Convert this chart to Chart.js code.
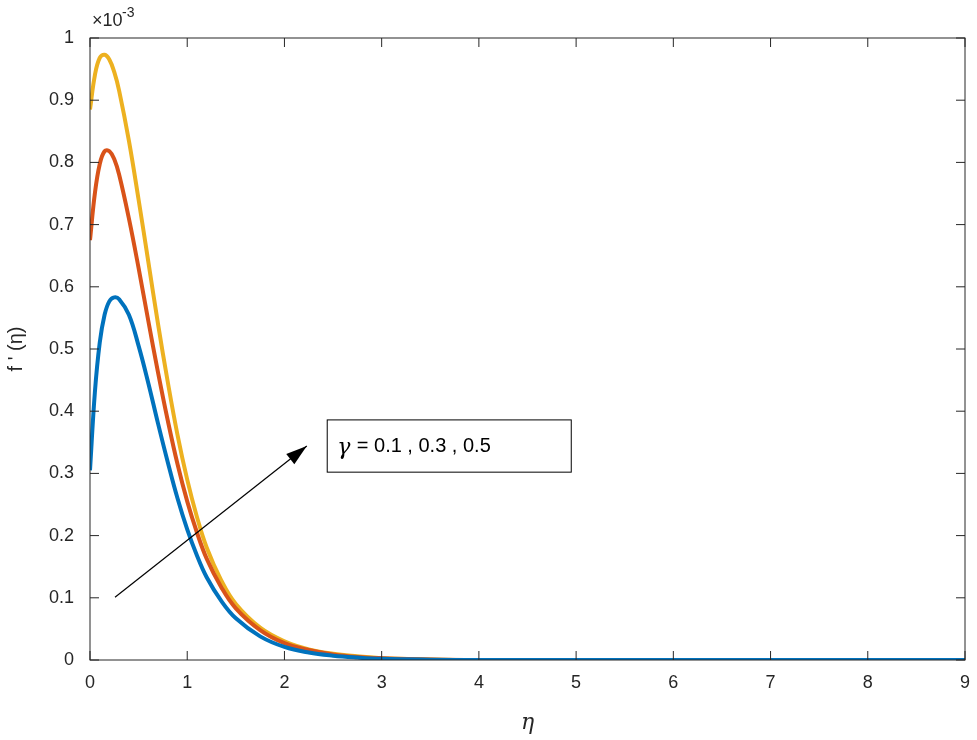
<!DOCTYPE html>
<html><head><meta charset="utf-8">
<script src="https://cdn.jsdelivr.net/npm/chart.js@4"></script>
<style>html,body{margin:0;padding:0;background:#fff}#w{width:977px;height:740px}</style>
</head><body><div id="w"><canvas id="c"></canvas></div>
<script>
const etaValues=[0,0.05,0.1,0.15,0.2,0.25,0.3,0.4,0.5,0.6,0.7,0.8,0.9,1.0,1.1,1.2,1.35,1.5,1.75,2,2.25,2.5,2.75,3,3.5,4,5,6,7,8,9];
const gamma01=[0.305,0.43,0.51,0.555,0.577,0.583,0.58,0.555,0.505,0.445,0.38,0.318,0.26,0.21,0.168,0.133,0.095,0.067,0.038,0.021,0.012,0.007,0.004,0.002,0.0006,0,0,0,0,0,0];
const gamma03=[0.675,0.75,0.797,0.818,0.818,0.805,0.78,0.71,0.63,0.545,0.462,0.385,0.315,0.255,0.205,0.163,0.117,0.083,0.048,0.027,0.016,0.009,0.005,0.003,0.0008,0,0,0,0,0,0];
const gamma05=[0.885,0.94,0.968,0.973,0.965,0.945,0.915,0.835,0.74,0.64,0.54,0.447,0.362,0.29,0.23,0.181,0.128,0.09,0.052,0.03,0.017,0.01,0.006,0.003,0.001,0,0,0,0,0,0];
const xTicks=[0,1,2,3,4,5,6,7,8,9];
const yTicks=[0,0.1,0.2,0.3,0.4,0.5,0.6,0.7,0.8,0.9,1];
const seriesColors=['#0072BD','#D95319','#EDB120'];
const pts=a=>etaValues.map((x,i)=>({x,y:a[i]}));
const deco={id:'deco',afterDraw(ch){
 const c=ch.ctx,a=ch.chartArea,xs=ch.scales.x,ys=ch.scales.y;
 c.save();c.strokeStyle='#262626';c.lineWidth=1;
 c.strokeRect(a.left,a.top,a.right-a.left,a.bottom-a.top);
 c.beginPath();
 xTicks.forEach(t=>{const p=xs.getPixelForValue(t);c.moveTo(p,a.bottom);c.lineTo(p,a.bottom-9);c.moveTo(p,a.top);c.lineTo(p,a.top+9);});
 yTicks.forEach(t=>{const p=ys.getPixelForValue(t);c.moveTo(a.left,p);c.lineTo(a.left+9,p);c.moveTo(a.right,p);c.lineTo(a.right-9,p);});
 c.stroke();
 c.fillStyle='#262626';c.font='18px "Liberation Sans"';c.textBaseline='alphabetic';
 c.fillText('\u00d710',92,26);c.font='14px "Liberation Sans"';c.fillText('-3',122,17);
 const x0=xs.getPixelForValue(0.257),y0=ys.getPixelForValue(0.101),x1=xs.getPixelForValue(2.23),y1=ys.getPixelForValue(0.344);
 c.strokeStyle='#000';c.lineWidth=1.2;c.beginPath();c.moveTo(x0,y0);c.lineTo(x1,y1);c.stroke();
 const ang=Math.atan2(y1-y0,x1-x0),L=22,W=0.3;
 c.fillStyle='#000';c.beginPath();c.moveTo(x1,y1);
 c.lineTo(x1-L*Math.cos(ang-W),y1-L*Math.sin(ang-W));c.lineTo(x1-L*Math.cos(ang+W),y1-L*Math.sin(ang+W));c.closePath();c.fill();
 const bx=xs.getPixelForValue(2.44),by=ys.getPixelForValue(0.386),bx2=xs.getPixelForValue(4.95),by2=ys.getPixelForValue(0.302);
 c.fillStyle='#fff';c.fillRect(bx,by,bx2-bx,by2-by);c.strokeStyle='#000';c.lineWidth=1;c.strokeRect(bx,by,bx2-bx,by2-by);
 c.fillStyle='#000';c.textBaseline='middle';
 c.font='italic 22px "DejaVu Serif"';c.fillText('\u03b3',bx+10,(by+by2)/2+2);
 c.font='20px "Liberation Sans"';c.fillText(' = 0.1 , 0.3 , 0.5',bx+24,(by+by2)/2);
 c.restore();}};
new Chart(document.getElementById('c'),{type:'scatter',
 data:{datasets:[gamma01,gamma03,gamma05].map((d,i)=>({data:pts(d),showLine:true,borderColor:seriesColors[i],borderWidth:4,pointRadius:0,tension:0.4,fill:false}))},
 options:{responsive:true,maintainAspectRatio:false,animation:false,
  layout:{padding:{top:38,right:12,left:0,bottom:0}},
  plugins:{legend:{display:false},tooltip:{enabled:false}},
  scales:{
   x:{type:'linear',min:0,max:9,grid:{display:false},border:{display:false},
    afterBuildTicks:s=>{s.ticks=xTicks.map(v=>({value:v}));},afterFit:s=>{s.height=80;},
    ticks:{color:'#262626',font:{size:18,family:'Liberation Sans'},padding:4,maxRotation:0},
    title:{display:true,text:'\u03b7',color:'#262626',font:{size:22,family:'DejaVu Serif',style:'italic'},padding:{top:4}}},
   y:{min:0,max:1,grid:{display:false},border:{display:false},
    afterBuildTicks:s=>{s.ticks=yTicks.map(v=>({value:v}));},afterFit:s=>{s.width=90;},
    ticks:{color:'#262626',font:{size:18,family:'Liberation Sans'},padding:8,callback:v=>String(Math.round(v*10)/10)},
    title:{display:true,text:"f ' (\u03b7)",color:'#262626',font:{size:20,family:'Liberation Sans'},padding:{bottom:0}}}}},
 plugins:[deco]});
</script></body></html>
